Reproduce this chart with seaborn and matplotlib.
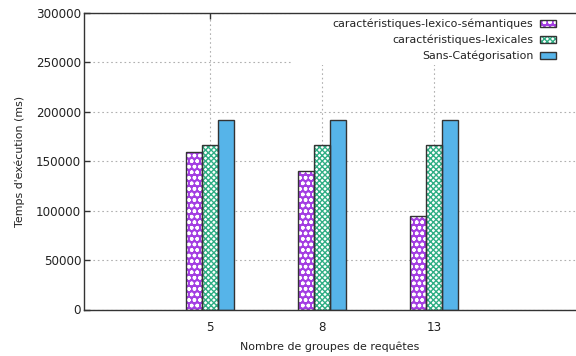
import matplotlib
matplotlib.use("Agg")
import matplotlib.pyplot as plt
import seaborn as sns
import pandas as pd
from matplotlib.patches import Patch, Rectangle
from matplotlib.legend_handler import HandlerTuple

categories = ["5", "8", "13"]
series = ["caractéristiques-lexico-sémantiques", "caractéristiques-lexicales", "Sans-Catégorisation"]
lexico_semantiques = [159000, 140000, 95000]
lexicales = [166500, 166500, 166500]
sans_categorisation = [192000, 192000, 192000]
y_ticks = [0, 50000, 100000, 150000, 200000, 250000, 300000]

rows = []
for name, vals in zip(series, [lexico_semantiques, lexicales, sans_categorisation]):
    for c, v in zip(categories, vals):
        rows.append({"groupes": c, "temps": v, "methode": name})
df = pd.DataFrame(rows)

sns.set_style("white")
plt.rcParams["font.family"] = ["DejaVu Sans"]

fig = plt.figure(figsize=(5.76, 3.56), dpi=100)
ax = fig.add_axes([84 / 576, 1 - 309.5 / 356, 1 - 84 / 576, (309.5 - 13) / 356])

styles = [
    dict(face="#a43ee2", hatch="ooo", hcolor="white"),
    dict(face="white", hatch="xxxxxx", hcolor="#2fae84"),
    dict(face="#56B4E9", hatch=None, hcolor="#56B4E9"),
]
edge_dark = "#333333"

sns.barplot(data=df, x="groupes", y="temps", hue="methode", order=categories,
            hue_order=series, palette=[s["face"] for s in styles], saturation=1,
            width=0.43, gap=0, ax=ax, legend=False, zorder=2)

for cont, st in zip(ax.containers, styles):
    for bar in cont:
        bar.set_facecolor(st["face"])
        bar.set_edgecolor(st["hcolor"])
        bar.set_linewidth(0)
        if st["hatch"]:
            bar.set_hatch(st["hatch"])
        outline = Rectangle((bar.get_x(), bar.get_y()), bar.get_width(), bar.get_height(),
                            fill=False, edgecolor=edge_dark, linewidth=1.0, zorder=3)
        ax.add_patch(outline)

ax.set_ylim(0, 300000)
ax.set_yticks(y_ticks)
ax.set_yticklabels([str(t) for t in y_ticks])
ax.set_xlim(-1.125, 3.268)

ax.set_axisbelow(True)
ax.grid(True, axis="both", color="#b0b0b0", linestyle=(0, (1.5, 2.5)), linewidth=0.8)

# key area blanks the grid, as in the original
ax.add_patch(Rectangle(((291 - 84) / 492, (309.5 - 65) / 296.5), 1, 1,
                       transform=ax.transAxes, facecolor="white", edgecolor="none",
                       zorder=1, clip_on=True))

for side in ["left", "top", "bottom"]:
    ax.spines[side].set_visible(True)
    ax.spines[side].set_color("#333333")
    ax.spines[side].set_linewidth(1.0)
ax.spines["right"].set_visible(False)

ax.tick_params(axis="y", direction="in", length=4, width=1, color="#333333",
               pad=2, labelsize=8.6, labelcolor="#222222", left=True)
ax.tick_params(axis="x", direction="in", length=4, width=1, color="#333333",
               pad=8, labelsize=8.6, labelcolor="#222222", top=True, bottom=True)

ax.set_xlabel("Nombre de groupes de requêtes", fontsize=7.9, color="#222222", labelpad=6)
ax.set_ylabel("Temps d'exécution (ms)", fontsize=7.9, color="#222222", labelpad=8)

handles = []
for st in styles:
    h1 = Patch(facecolor=st["face"], edgecolor=st["hcolor"], hatch=st["hatch"], linewidth=0)
    h2 = Patch(fill=False, edgecolor=edge_dark, linewidth=1.0)
    handles.append((h1, h2))
leg = ax.legend(handles, series, loc="upper right", bbox_to_anchor=(1 - 20 / 492, 1 - 6 / 297),
                frameon=False, markerfirst=False, fontsize=7.9, handlelength=1.45,
                handleheight=0.55, handletextpad=0.6, labelspacing=0.5, borderaxespad=0,
                borderpad=0, handler_map={tuple: HandlerTuple(ndivide=1)})
leg.set_zorder(5)
for t in leg.get_texts():
    t.set_color("#222222")
    t.set_ha("right")

fig.savefig("out.png", dpi=100)
